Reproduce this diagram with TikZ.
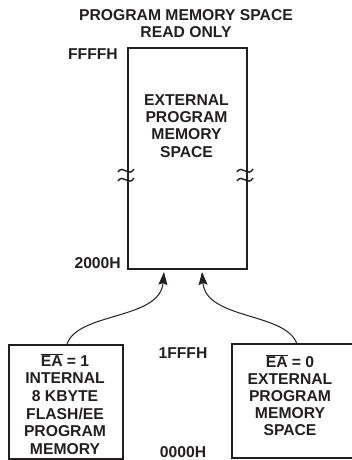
\documentclass[tikz,border=0pt]{standalone}
\usepackage{fontspec}
\setmainfont{Liberation Sans}
\usetikzlibrary{arrows.meta}
\definecolor{ink}{HTML}{231F20}
\tikzset{
  lbl/.style={font=\fontsize{15.7}{17.3}\selectfont\bfseries, text=ink, align=center, inner sep=0pt},
  membox/.style={draw=ink, line width=2pt, inner sep=0pt},
  flow/.style={draw=ink, line width=1pt, -{Stealth[length=13pt,width=9pt,inset=2pt]}},
  brk/.style={draw=ink, line width=1.4pt},
}
\newcommand{\ovl}[1]{$\overline{\hbox{#1}}$}
\begin{document}
\begin{tikzpicture}[x=1pt,y=-1pt]
\useasboundingbox (0,0) rectangle (351,460);
% title
\node[lbl] (title) at (186,23.5) {PROGRAM MEMORY SPACE\\READ ONLY};
% main box
\node[membox, line width=2.2pt, minimum width=119pt, minimum height=221pt, anchor=north west] (main) at (127,47) {};
\node[lbl] (mtext) at (186.5,126) {EXTERNAL\\PROGRAM\\MEMORY\\SPACE};
\node[lbl, anchor=east] (ffff) at (118,54) {FFFFH};
\node[lbl, anchor=east] (k2000) at (121,263) {2000H};
% break marks
\foreach \bx/\nm in {126/bl,245/br}{
  \coordinate (\nm) at (\bx,175);
  \draw[brk] (\bx-8,172) .. controls (\bx-3,164) and (\bx+3,178) .. (\bx+8,169);
  \draw[brk] (\bx-8,181) .. controls (\bx-3,173) and (\bx+3,187) .. (\bx+8,178);
}
% left box
\node[membox, minimum width=114pt, minimum height=114pt, anchor=north west] (lbox) at (8,344) {};
\node[lbl, font=\fontsize{15.7}{17.6}\selectfont\bfseries] (ltext) at (65,404) {\ovl{EA} = 1\\INTERNAL\\8 KBYTE\\FLASH/EE\\PROGRAM\\MEMORY};
% right box (right side beyond the picture)
\node[minimum width=140pt, minimum height=114pt, inner sep=0pt, anchor=north west] (rbox) at (232,344) {};
\draw[ink, line width=2pt] (rbox.north east) -- (rbox.north west) -- (rbox.south west) -- (rbox.south east);
\node[lbl, font=\fontsize{15.7}{17.1}\selectfont\bfseries] (rtext) at (290,395) {\ovl{EA} = 0\\EXTERNAL\\PROGRAM\\MEMORY\\SPACE};
% addresses
\node[lbl] (k1fff) at (183,353) {1FFFH};
\node[lbl] (k0000) at (183,452) {0000H};
% arrows
\coordinate (ls) at (67,344);
\coordinate (rs) at (297,344);
\coordinate (lt) at (164,272);
\coordinate (rt) at (202,272);
\draw[flow] (ls) .. controls (78,312) and (160,320) .. (lt);
\draw[flow] (rs) .. controls (286,312) and (206,320) .. (rt);
\end{tikzpicture}
\end{document}
